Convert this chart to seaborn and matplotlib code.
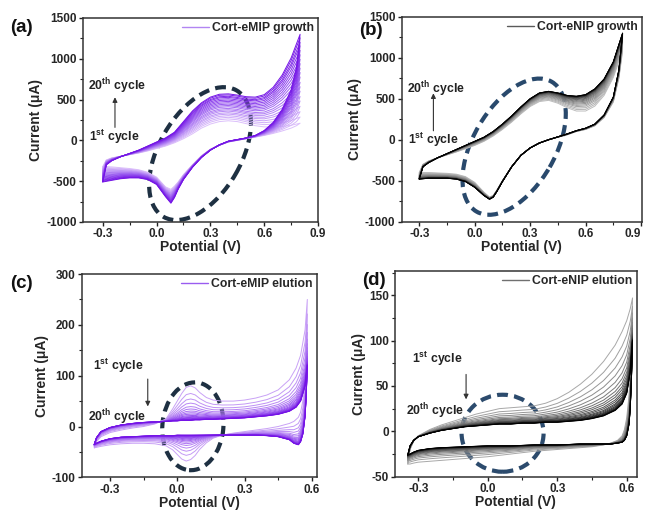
import numpy as np
import pandas as pd
import matplotlib
matplotlib.use("Agg")
import matplotlib.pyplot as plt
import seaborn as sns
from matplotlib.patches import Ellipse
from matplotlib.transforms import ScaledTranslation

# ---------------- data ----------------
# Panel (a): Cort-eMIP growth (potential V, current uA)
a_E_fwd = [-0.30, -0.28, -0.25, -0.20, -0.15, -0.10, -0.05, 0.00, 0.05, 0.10, 0.15, 0.20,
           0.25, 0.30, 0.35, 0.40, 0.45, 0.50, 0.55, 0.60, 0.65, 0.70, 0.75, 0.80]
a_I_fwd_first = [-320, -240, -215, -195, -175, -155, -130, -100, -70, -30, 20, 80,
                 150, 200, 230, 240, 230, 205, 180, 165, 165, 170, 185, 210]
a_I_fwd_last = [-510, -300, -250, -200, -160, -120, -70, -20, 30, 100, 230, 360,
                460, 530, 565, 570, 555, 535, 530, 560, 650, 800, 1010, 1300]
a_E_rev = [0.80, 0.78, 0.75, 0.70, 0.65, 0.60, 0.55, 0.50, 0.45, 0.40, 0.35, 0.30, 0.25,
           0.20, 0.15, 0.12, 0.10, 0.08, 0.05, 0.00, -0.05, -0.10, -0.15, -0.20, -0.25, -0.30]
a_I_rev_first = [210, 180, 150, 115, 85, 60, 40, 20, 0, -20, -60, -110, -190,
                 -300, -420, -510, -560, -600, -570, -450, -390, -360, -345, -335, -325, -320]
a_I_rev_last = [1300, 900, 620, 380, 220, 120, 60, 30, 10, -10, -55, -120, -210,
                -330, -480, -600, -700, -770, -690, -540, -480, -460, -460, -470, -490, -510]
a_cycle_pos = [0.00, 0.07, 0.13, 0.19, 0.25, 0.30, 0.36, 0.41, 0.46, 0.52,
               0.57, 0.62, 0.67, 0.72, 0.77, 0.82, 0.87, 0.91, 0.96, 1.00]

# Panel (b): Cort-eNIP growth
b_E_fwd = a_E_fwd
b_I_fwd_first = [-400, -300, -260, -220, -185, -150, -110, -70, -20, 45, 125, 215,
                 315, 405, 465, 480, 445, 390, 350, 350, 410, 540, 760, 1080]
b_I_fwd_last = [-480, -330, -280, -220, -170, -120, -70, -20, 30, 100, 190, 290,
                400, 500, 570, 590, 570, 540, 530, 550, 620, 740, 950, 1300]
b_E_rev = a_E_rev
b_I_rev_first = [1080, 750, 460, 270, 170, 125, 100, 60, 30, 0, -40, -100, -190,
                 -330, -500, -615, -680, -700, -640, -520, -450, -420, -410, -405, -400, -400]
b_I_rev_last = [1300, 850, 520, 300, 190, 140, 110, 70, 35, 0, -40, -100, -190,
                -330, -510, -630, -700, -725, -680, -580, -510, -480, -470, -470, -470, -480]
b_cycle_pos = [0.00, 0.10, 0.20, 0.30, 0.38, 0.46, 0.53, 0.60, 0.66, 0.72,
               0.77, 0.82, 0.86, 0.90, 0.93, 0.95, 0.97, 0.985, 0.995, 1.00]

# Panel (c): Cort-eMIP elution
c_E_fwd = [-0.37, -0.36, -0.34, -0.30, -0.25, -0.20, -0.15, -0.10, -0.05, -0.02, 0.00, 0.02,
           0.04, 0.06, 0.08, 0.10, 0.13, 0.16, 0.20, 0.25, 0.30, 0.35, 0.40, 0.45, 0.50,
           0.53, 0.55, 0.57, 0.58]
c_I_fwd_first = [-42, -30, -20, -12, -7, -3, 0, 5, 15, 35, 50, 65,
                 77, 80, 76, 67, 57, 52, 50, 50, 52, 56, 62, 72, 92,
                 115, 140, 190, 250]
c_I_fwd_last = [-35, -22, -10, -2, 3, 6, 8, 9, 10, 11, 11, 12,
                12, 12, 13, 13, 14, 14, 15, 16, 17, 19, 21, 24, 30,
                38, 50, 80, 120]
c_E_rev = [0.58, 0.575, 0.57, 0.56, 0.55, 0.54, 0.52, 0.50, 0.45, 0.40, 0.35, 0.30, 0.25,
           0.20, 0.16, 0.13, 0.10, 0.08, 0.06, 0.04, 0.02, 0.00, -0.02, -0.05, -0.10,
           -0.15, -0.20, -0.25, -0.30, -0.34, -0.37]
c_I_rev_first = [250, 160, 100, 50, 28, 18, 10, 6, 0, -4, -7, -10, -13,
                 -17, -23, -32, -45, -57, -65, -68, -64, -55, -46, -38, -34,
                 -33, -33, -34, -36, -39, -42]
c_I_rev_last = [120, 60, 20, -15, -30, -36, -33, -26, -20, -18, -17, -17, -17,
                -17, -17, -17, -17, -17, -17, -17, -17, -17, -18, -18, -18,
                -19, -20, -21, -24, -29, -35]
c_cycle_pos = [0.00, 0.22, 0.38, 0.50, 0.60, 0.67, 0.73, 0.78, 0.82, 0.86,
               0.89, 0.915, 0.935, 0.95, 0.965, 0.975, 0.985, 0.99, 0.995, 1.00]

# Panel (d): Cort-eNIP elution
d_E_fwd = [-0.345, -0.335, -0.32, -0.30, -0.25, -0.20, -0.15, -0.10, -0.05, 0.00, 0.05, 0.10,
           0.15, 0.20, 0.25, 0.30, 0.35, 0.40, 0.45, 0.50, 0.55, 0.58, 0.60, 0.615, 0.625]
d_I_fwd_first = [-36, -20, -11, -5, 2, 7, 11, 15, 19, 22, 25, 26,
                 27, 28, 31, 36, 43, 52, 63, 77, 95, 110, 122, 135, 147]
d_I_fwd_last = [-26, -16, -10, -6, -2, 1, 3, 5, 6, 7, 8, 8,
                9, 9, 10, 10, 11, 12, 14, 17, 23, 30, 42, 65, 100]
d_E_rev = [0.625, 0.62, 0.615, 0.61, 0.60, 0.59, 0.58, 0.56, 0.53, 0.50, 0.45, 0.40,
           0.30, 0.20, 0.10, 0.00, -0.10, -0.20, -0.25, -0.30, -0.32, -0.335, -0.345]
d_I_rev_first = [147, 100, 65, 40, 15, 2, -5, -10, -13, -15, -17, -18,
                 -20, -22, -25, -28, -30, -32, -33, -34, -35, -36, -36]
d_I_rev_last = [100, 55, 25, 8, -5, -10, -12, -13, -14, -14, -14, -14,
                -15, -15, -16, -16, -17, -18, -19, -21, -23, -25, -26]
d_cycle_pos = [0.00, 0.20, 0.35, 0.47, 0.57, 0.65, 0.71, 0.76, 0.80, 0.84,
               0.87, 0.90, 0.92, 0.94, 0.955, 0.97, 0.98, 0.99, 0.995, 1.00]

legend_labels = ["Cort-eMIP growth", "Cort-eNIP growth", "Cort-eMIP elution", "Cort-eNIP elution"]
panel_letters = ["(a)", "(b)", "(c)", "(d)"]


def cycles_frame(E_f, If0, If1, E_r, Ir0, Ir1, pos):
    rows = []
    E = np.concatenate([E_f, E_r])
    I0 = np.concatenate([If0, Ir0]).astype(float)
    I1 = np.concatenate([If1, Ir1]).astype(float)
    for k, w in enumerate(pos):
        I = I0 + w * (I1 - I0)
        for j in range(len(E)):
            rows.append((k + 1, j, E[j], I[j]))
    return pd.DataFrame(rows, columns=["cycle", "order", "E", "I"])


# ---------------- style ----------------
sns.set_theme(style="ticks")
plt.rcParams["font.family"] = ["Liberation Sans", "DejaVu Sans"]
plt.rcParams["font.weight"] = "bold"
plt.rcParams["axes.labelweight"] = "bold"
plt.rcParams["mathtext.fontset"] = "custom"
plt.rcParams["mathtext.rm"] = "Liberation Sans:bold"
plt.rcParams["mathtext.bf"] = "Liberation Sans:bold"
plt.rcParams["mathtext.it"] = "Liberation Sans:bold"

fig = plt.figure(figsize=(6.46, 5.19), dpi=100)

rects = [[0.1285, 0.5723, 0.3638, 0.3931],
         [0.6218, 0.5728, 0.3720, 0.3950],
         [0.1265, 0.0803, 0.3638, 0.3917],
         [0.6115, 0.0815, 0.3741, 0.3969]]

datasets = [
    (a_E_fwd, a_I_fwd_first, a_I_fwd_last, a_E_rev, a_I_rev_first, a_I_rev_last, a_cycle_pos),
    (b_E_fwd, b_I_fwd_first, b_I_fwd_last, b_E_rev, b_I_rev_first, b_I_rev_last, b_cycle_pos),
    (c_E_fwd, c_I_fwd_first, c_I_fwd_last, c_E_rev, c_I_rev_first, c_I_rev_last, c_cycle_pos),
    (d_E_fwd, d_I_fwd_first, d_I_fwd_last, d_E_rev, d_I_rev_first, d_I_rev_last, d_cycle_pos),
]
palettes = [
    sns.blend_palette(["#dcc0fb", "#a066f2", "#7414e6"], 20),
    sns.blend_palette(["#bdbdbd", "#6a6a6a", "#000000"], 20),
    sns.blend_palette(["#c9a2f6", "#9650f0", "#7412e6"], 20),
    sns.blend_palette(["#a8a8a8", "#505050", "#000000"], 20),
]
legend_colors = ["#b285f2", "#5a5a5a", "#9a5cf0", "#707070"]
xlims = [(-0.41, 0.90), (-0.395, 0.905), (-0.426, 0.622), (-0.40, 0.643)]
ylims = [(-1000, 1500), (-1000, 1500), (-100, 300), (-50, 177)]
xticks = [[-0.3, 0.0, 0.3, 0.6, 0.9], [-0.3, 0.0, 0.3, 0.6, 0.9],
          [-0.3, 0.0, 0.3, 0.6], [-0.3, 0.0, 0.3, 0.6]]
yticks = [[-1000, -500, 0, 500, 1000, 1500], [-1000, -500, 0, 500, 1000, 1500],
          [-100, 0, 100, 200, 300], [-50, 0, 50, 100, 150]]
yminor = [250, 250, 50, 25]

# ellipses: centre (axes fraction), width/height (inches), angle, colour
ellipses = [((0.498, 0.335), 1.46, 0.82, 60, "#1e3042"),
            ((0.468, 0.366), 1.50, 0.82, 60, "#29496c"),
            ((0.473, 0.251), 0.61, 0.88, -5, "#1e3042"),
            ((0.445, 0.211), 0.82, 0.77, 0, "#2c4b6d")]

# annotations (axes fraction): upper text, lower text, arrow x, arrow from y, arrow to y
annots = [
    (("20$^{th}$ cycle", 0.021, 0.667), ("1$^{st}$ cycle", 0.025, 0.417), 0.136, 0.45, 0.625),
    (("20$^{th}$ cycle", 0.023, 0.647), ("1$^{st}$ cycle", 0.026, 0.399), 0.132, 0.43, 0.64),
    (("1$^{st}$ cycle", 0.049, 0.549), ("20$^{th}$ cycle", 0.028, 0.295), 0.281, 0.497, 0.335),
    (("1$^{st}$ cycle", 0.069, 0.571), ("20$^{th}$ cycle", 0.046, 0.316), 0.294, 0.51, 0.362),
]
letter_pos = [(0.0155, 0.947), (0.556, 0.941), (0.0155, 0.454), (0.560, 0.460)]

for i in range(4):
    ax = fig.add_axes(rects[i])
    df = cycles_frame(*datasets[i])
    sns.lineplot(data=df, x="E", y="I", hue="cycle", units="cycle", estimator=None,
                 sort=False, palette=palettes[i], linewidth=0.7, legend=False, ax=ax)
    ax.plot([], [], color=legend_colors[i], lw=1.0, label=legend_labels[i])
    leg = ax.legend(loc="upper right", frameon=False, fontsize=8.8, handlelength=2.2,
                    handletextpad=0.25, borderaxespad=0.1, borderpad=0.25)
    for t in leg.get_texts():
        t.set_fontweight("bold")

    ax.set_xlim(*xlims[i])
    ax.set_ylim(*ylims[i])
    ax.set_xticks(xticks[i])
    ax.set_yticks(yticks[i])
    ax.set_xticklabels([f"{v:.1f}" for v in xticks[i]])
    ax.set_yticklabels([str(v) for v in yticks[i]])
    ax.xaxis.set_minor_locator(matplotlib.ticker.MultipleLocator(0.15))
    ax.yaxis.set_minor_locator(matplotlib.ticker.MultipleLocator(yminor[i]))
    ax.tick_params(which="major", direction="out", length=3, width=1.0, labelsize=8.5,
                   pad=1.5, color="#222222")
    ax.tick_params(which="minor", direction="out", length=2, width=0.8, color="#222222")
    for lab in ax.get_xticklabels() + ax.get_yticklabels():
        lab.set_fontweight("bold")
    if i == 1:
        lastlab = ax.get_xticklabels()[-1]
        lastlab.set_transform(lastlab.get_transform() +
                              ScaledTranslation(-6 / 72, 0, fig.dpi_scale_trans))
    for sp in ax.spines.values():
        sp.set_visible(True)
        sp.set_linewidth(1.1)
        sp.set_color("#333333")
    ax.set_xlabel("Potential (V)", fontsize=10, fontweight="bold", labelpad=0)
    ax.set_ylabel("Current (\u03bcA)", fontsize=10, fontweight="bold", labelpad=2)

    (cx, cy), w, h, ang, col = ellipses[i]
    ell = Ellipse((0, 0), w, h, angle=ang, fill=False, edgecolor=col, linewidth=3.0,
                  linestyle=(0, (2.6, 1.5)),
                  transform=fig.dpi_scale_trans + ScaledTranslation(cx, cy, ax.transAxes))
    ell.set_capstyle("butt")
    ax.add_patch(ell)

    (t1, x1, y1), (t2, x2, y2), axx, ya, yb = annots[i]
    ax.text(x1, y1, t1, transform=ax.transAxes, fontsize=8.8, fontweight="bold",
            ha="left", va="center", color="#222222")
    ax.text(x2, y2, t2, transform=ax.transAxes, fontsize=8.8, fontweight="bold",
            ha="left", va="center", color="#222222")
    ax.annotate("", xy=(axx, yb), xytext=(axx, ya), xycoords="axes fraction",
                arrowprops=dict(arrowstyle="-|>", color="#333333", lw=0.8, mutation_scale=7))

    fig.text(letter_pos[i][0], letter_pos[i][1], panel_letters[i], fontsize=13.5,
             fontweight="bold", ha="left", va="center", color="#111111")

fig.savefig("out.png", dpi=100)
